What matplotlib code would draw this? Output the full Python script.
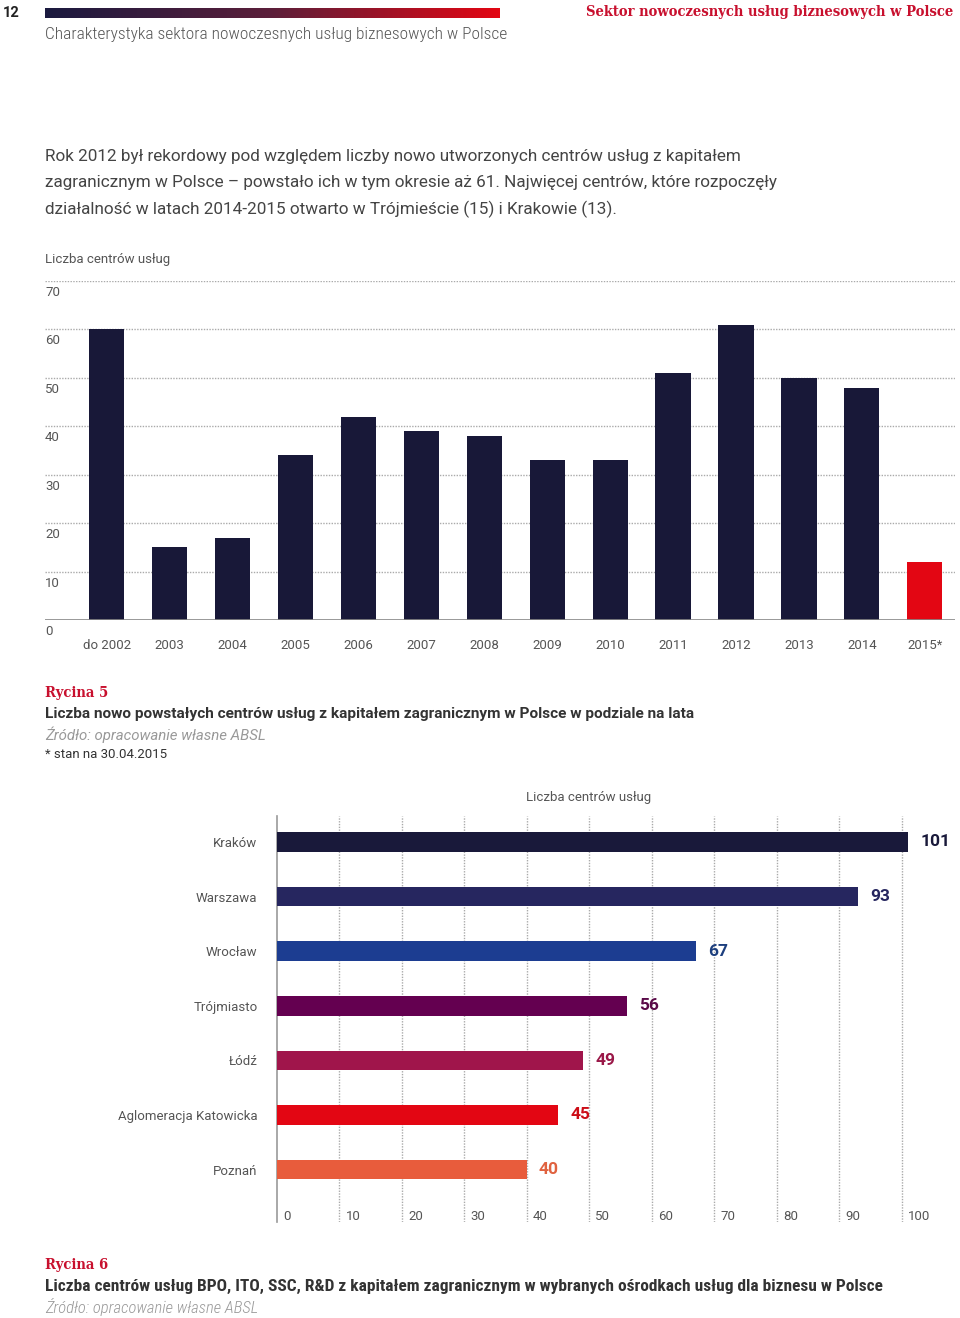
import numpy as np
import matplotlib
matplotlib.use("Agg")
import matplotlib.pyplot as plt
import matplotlib.transforms as mtransforms
from matplotlib.colors import LinearSegmentedColormap

# --- data ---
years = ["do 2002", "2003", "2004", "2005", "2006", "2007", "2008",
         "2009", "2010", "2011", "2012", "2013", "2014", "2015*"]
new_centres = [60, 15, 17, 34, 42, 39, 38, 33, 33, 51, 61, 50, 48, 12]
y_ticks = [0, 10, 20, 30, 40, 50, 60, 70]

cities = ["Kraków", "Warszawa", "Wrocław", "Trójmiasto", "Łódź",
          "Aglomeracja Katowicka", "Poznań"]
city_centres = [101, 93, 67, 56, 49, 45, 40]
x_ticks = [0, 10, 20, 30, 40, 50, 60, 70, 80, 90, 100]

city_colors = ["#19193a", "#26265f", "#1c3d91", "#640050", "#a0154b",
               "#e30613", "#e85c3c"]
label_colors = ["#19193a", "#26265f", "#1d3f7e", "#5a0a48", "#9a1848",
                "#cc0d17", "#e0623f"]

W, H = 960, 1318
fig = plt.figure(figsize=(W / 100, H / 100), dpi=100)

SANS = ["Roboto", "DejaVu Sans"]
COND = ["Roboto Condensed", "Liberation Sans Narrow", "Roboto", "DejaVu Sans"]
SLAB = ["Roboto Slab", "DejaVu Serif"]
GRAY = "#555555"
DARK = "#333333"


def fx(x):
    return x / W


def fy(y):
    return 1 - y / H


def box(l, t, r, b):
    return [fx(l), fy(b), (r - l) / W, (b - t) / H]


# --- page header ---
fig.text(fx(3), fy(13), "12", family=SANS, fontsize=10.5, weight="bold",
         color="#222222", va="center")
gax = fig.add_axes(box(45, 8, 500, 18))
cmap = LinearSegmentedColormap.from_list("hdr", ["#1b1a40", "#5c1f3a", "#e30613"])
gax.imshow(np.linspace(0, 1, 256)[None, :], aspect="auto", cmap=cmap)
gax.axis("off")
fig.text(fx(953), fy(12), "Sektor nowoczesnych usług biznesowych w Polsce",
         family=SLAB, fontsize=10.5, weight="bold", color="#c8102e",
         ha="right", va="center", fontstretch="condensed")
fig.text(fx(45), fy(35), "Charakterystyka sektora nowoczesnych usług biznesowych w Polsce",
         family=COND, fontsize=12.5, color=GRAY, va="center", weight="light")

para = ["Rok 2012 był rekordowy pod względem liczby nowo utworzonych centrów usług z kapitałem",
        "zagranicznym w Polsce – powstało ich w tym okresie aż 61. Najwięcej centrów, które rozpoczęły",
        "działalność w latach 2014-2015 otwarto w Trójmieście (15) i Krakowie (13)."]
for i, line in enumerate(para):
    fig.text(fx(45), fy(157 + 26 * i), line, family=SANS, fontsize=12.35,
             color="#444444", va="center")

# --- chart 1: vertical bars ---
ax1 = fig.add_axes(box(45, 281, 955, 620))
bar_colors = ["#181838"] * (len(years) - 1) + ["#e30613"]
xs = np.arange(len(years))
ax1.bar(xs, new_centres, width=0.56, color=bar_colors, zorder=3)
ax1.set_xlim(-0.98, 13.48)
ax1.set_ylim(0, 70)
for v in y_ticks[1:]:
    ax1.axhline(v, color="#aaaaaa", lw=1, ls=(0, (1, 1)), zorder=1)
ax1.axhline(0, color="#888888", lw=1.2, zorder=4)
ytrans = mtransforms.blended_transform_factory(ax1.transAxes, ax1.transData)
for v in y_ticks:
    ax1.annotate(str(v), (0, v), xycoords=ytrans, xytext=(0, -5),
                 textcoords="offset pixels", ha="left", va="top",
                 family=SANS, fontsize=9.5, color=GRAY)
ax1.set_xticks(xs, years, family=SANS, fontsize=9.5, color=GRAY)
ax1.set_yticks([])
ax1.tick_params(axis="x", length=0, pad=14)
for s in ax1.spines.values():
    s.set_visible(False)
fig.text(fx(45), fy(259), "Liczba centrów usług", family=SANS, fontsize=9.5,
         color=GRAY, va="center")

# --- caption 5 ---
fig.text(fx(45), fy(693), "Rycina 5", family=SLAB, fontsize=10.5, weight="bold",
         color="#c8102e", va="center", fontstretch="condensed")
fig.text(fx(45), fy(714),
         "Liczba nowo powstałych centrów usług z kapitałem zagranicznym w Polsce w podziale na lata",
         family=SANS, fontsize=11.1, weight="bold", color=DARK, va="center")
fig.text(fx(45), fy(735), "Źródło: opracowanie własne ABSL", family=SANS,
         fontsize=10.8, style="italic", color="#999999", va="center")
fig.text(fx(45), fy(754), "* stan na 30.04.2015", family=SANS, fontsize=9.5,
         color=DARK, va="center")

# --- chart 2: horizontal bars ---
ax2 = fig.add_axes(box(277, 816, 955, 1222))
ys = np.arange(len(cities))
ax2.barh(ys, city_centres, height=0.36, color=city_colors, zorder=3)
ax2.set_xlim(0, 108.5)
ax2.set_ylim(6.96, -0.476)
for v in x_ticks[1:]:
    ax2.axvline(v, color="#aaaaaa", lw=1, ls=(0, (1, 1)), zorder=1)
for y, v, c in zip(ys, city_centres, label_colors):
    ax2.annotate(str(v), (v, y), xytext=(12, 0), textcoords="offset pixels",
                 ha="left", va="center", family=SANS, fontsize=12.5,
                 weight="bold", color=c)
xtrans = mtransforms.blended_transform_factory(ax2.transData, ax2.transAxes)
for v in x_ticks:
    ax2.annotate(str(v), (v, 0), xycoords=xtrans, xytext=(6, 5),
                 textcoords="offset pixels", ha="left", va="center",
                 family=SANS, fontsize=9.5, color=GRAY)
ax2.set_yticks(ys, cities, family=SANS, fontsize=9.5, color=GRAY)
ax2.set_xticks([])
ax2.tick_params(axis="y", length=0, pad=14)
for k, s in ax2.spines.items():
    s.set_visible(k == "left")
ax2.spines["left"].set_color("#999999")
ax2.spines["left"].set_linewidth(1.2)
fig.text(fx(589), fy(797), "Liczba centrów usług", family=SANS, fontsize=9.5,
         color=GRAY, ha="center", va="center")

# --- caption 6 ---
fig.text(fx(45), fy(1265), "Rycina 6", family=SLAB, fontsize=10.5, weight="bold",
         color="#c8102e", va="center", fontstretch="condensed")
fig.text(fx(45), fy(1286),
         "Liczba centrów usług BPO, ITO, SSC, R&D z kapitałem zagranicznym w wybranych ośrodkach usług dla biznesu w Polsce",
         family=COND, fontsize=12.5, weight="bold", color=DARK, va="center")
fig.text(fx(45), fy(1307), "Źródło: opracowanie własne ABSL", family=COND,
         fontsize=12, style="italic", weight="light", color="#999999", va="center")

fig.savefig("out.png", dpi=100)
